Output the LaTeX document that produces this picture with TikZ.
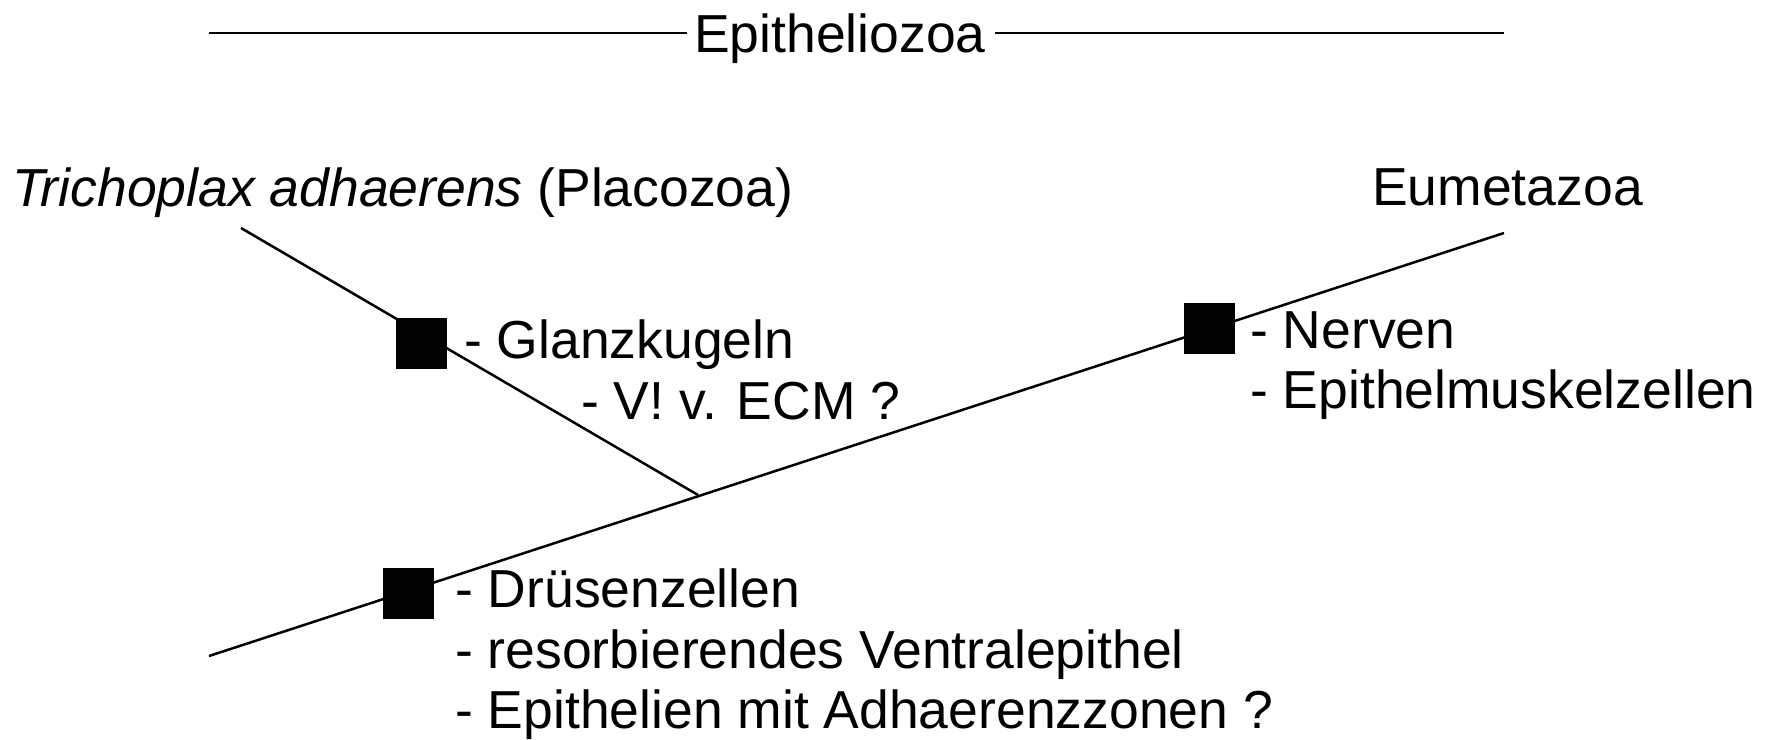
\documentclass[tikz,border=0pt]{standalone}
\usepackage{fontspec}
\setmainfont{Liberation Sans}
\begin{document}
\begin{tikzpicture}[x=1pt,y=-1pt,
  lbl/.style={anchor=base west, inner sep=0pt, font=\fontsize{53.5}{60}\selectfont},
  trait/.style={fill=black, draw=none, minimum width=51pt, minimum height=51pt, inner sep=0pt},
  branch/.style={line width=2.5pt}]
\useasboundingbox (0,0) rectangle (1769,739);

% bracket spanning the clade
\node[lbl] (epi) at (694,52) {Epitheliozoa};
\coordinate (topL) at (209,33);
\coordinate (topR) at (1504,33);
\draw[branch] (topL) -- ([xshift=-7pt]topL -| epi.west);
\draw[branch] ([xshift=9pt]topR -| epi.east) -- (topR);

% tree
\coordinate (root) at (209,656);
\coordinate (eumtip) at (1504,233);
\coordinate (tritip) at (241,228);
\coordinate (fork) at (698,495);
\draw[branch] (root) -- (eumtip);
\draw[branch] (tritip) -- (fork);

% terminal taxa
\node[lbl] (tri) at (12,206) {\textit{Trichoplax adhaerens} (Placozoa)};
\node[lbl] (eum) at (1372,205) {Eumetazoa};

% apomorphies
\node[trait] (sqG) at (421,343.5) {};
\node[lbl] (gl1) at (464,358) {- Glanzkugeln};
\node[lbl] (gl2) at (581,419) {- V! v. ECM ?};

\node[trait] (sqD) at (408,593.5) {};
\node[lbl] (dr1) at (455,607) {- Drüsenzellen};
\node[lbl] (dr2) at (455,668) {- resorbierendes Ventralepithel};
\node[lbl] (dr3) at (455,728) {- Epithelien mit Adhaerenzzonen ?};

\node[trait] (sqN) at (1209.5,328.5) {};
\node[lbl] (ne1) at (1250,348) {- Nerven};
\node[lbl] (ne2) at (1250,408) {- Epithelmuskelzellen};
\end{tikzpicture}
\end{document}
